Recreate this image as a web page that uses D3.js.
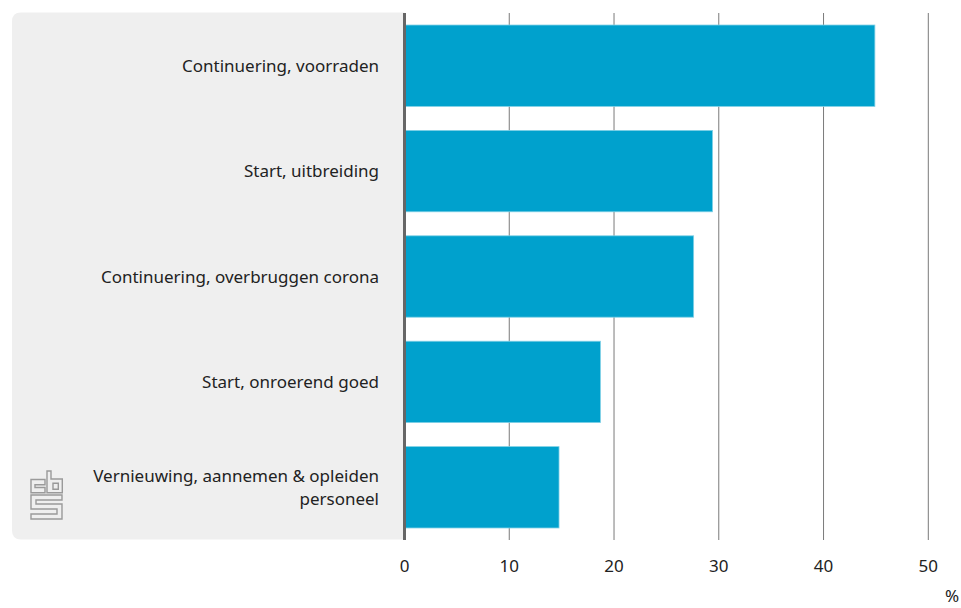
<!DOCTYPE html>
<html>
<head>
<meta charset="utf-8">
<script src="https://cdn.jsdelivr.net/npm/d3@7"></script>
<style>
  html, body { margin: 0; padding: 0; background: #fff; }
  svg { display: block; }
  text { font-family: "Noto Sans", Roboto, sans-serif; fill: #222; }
</style>
</head>
<body>
<svg id="chart" width="961" height="608"></svg>
<script>
const categories = [
  "Continuering, voorraden",
  "Start, uitbreiding",
  "Continuering, overbruggen corona",
  "Start, onroerend goed",
  "Vernieuwing, aannemen & opleiden personeel"
];
const labelLines = [
  ["Continuering, voorraden"],
  ["Start, uitbreiding"],
  ["Continuering, overbruggen corona"],
  ["Start, onroerend goed"],
  ["Vernieuwing, aannemen & opleiden", "personeel"]
];
const values = [44.9, 29.4, 27.6, 18.7, 14.75];
const xTicks = [0, 10, 20, 30, 40, 50];
const unitLabel = "%";

const svg = d3.select("#chart");
const x = d3.scaleLinear().domain([0, 50]).range([404.5, 928.3]);
const y = d3.scaleBand().domain(categories).range([13, 540]).paddingInner(0.228).paddingOuter(0.114);

// grey label panel
const px0 = 12, px1 = x(0), py0 = 12.5, py1 = 539.5, r = 9;
svg.append("path")
  .attr("d", `M${px1},${py0} L${px0 + r},${py0} Q${px0},${py0} ${px0},${py0 + r} L${px0},${py1 - r} Q${px0},${py1} ${px0 + r},${py1} L${px1},${py1} Z`)
  .attr("fill", "#efefef");

// grid lines
svg.append("g").selectAll("line").data(xTicks.filter(d => d > 0)).join("line")
  .attr("x1", d => x(d)).attr("x2", d => x(d))
  .attr("y1", 13).attr("y2", 540)
  .attr("stroke", "#7a7a7a").attr("stroke-width", 1);

// bars
svg.append("g").selectAll("rect").data(values).join("rect")
  .attr("x", x(0))
  .attr("y", (d, i) => y(categories[i]))
  .attr("width", d => x(d) - x(0))
  .attr("height", y.bandwidth())
  .attr("fill", "#00a1cd")
  .attr("stroke", "#7fd0e6").attr("stroke-width", 0.8);

// zero axis
svg.append("line")
  .attr("x1", x(0)).attr("x2", x(0)).attr("y1", 13).attr("y2", 540)
  .attr("stroke", "#666").attr("stroke-width", 3);

// category labels
const lab = svg.append("g").selectAll("text").data(labelLines).join("text")
  .attr("text-anchor", "end")
  .attr("font-size", 17);
lab.each(function(lines, i) {
  const cy = y(categories[i]) + y.bandwidth() / 2;
  const lh = 23;
  const start = cy - (lines.length - 1) * lh / 2 + 6;
  d3.select(this).selectAll("tspan").data(lines).join("tspan")
    .attr("x", 379).attr("y", (d, j) => start + j * lh).text(d => d);
});

// x tick labels
svg.append("g").selectAll("text").data(xTicks).join("text")
  .attr("x", d => x(d)).attr("y", 572)
  .attr("text-anchor", "middle").attr("font-size", 17)
  .text(d => d);
svg.append("text").attr("x", 952).attr("y", 602).attr("text-anchor", "middle")
  .attr("font-size", 17).text(unitLabel);

// CBS logo
const logo = svg.append("g").attr("fill", "none").attr("stroke", "#9a9a9a").attr("stroke-width", 1.4);
logo.append("path").attr("d", "M31,479.5 H45 V484.7 H35 V487.5 H45 V492.7 H31 Z");
logo.append("path").attr("d", "M47,471 H51 V479 H62.3 V492.7 H47 Z");
logo.append("path").attr("d", "M53,483.3 H58.3 V489.2 H53 Z");
logo.append("path").attr("d", "M31,495 H62 V500 H36 V504 H62 V519 H31 V514 H57 V509 H31 Z");
</script>
</body>
</html>
